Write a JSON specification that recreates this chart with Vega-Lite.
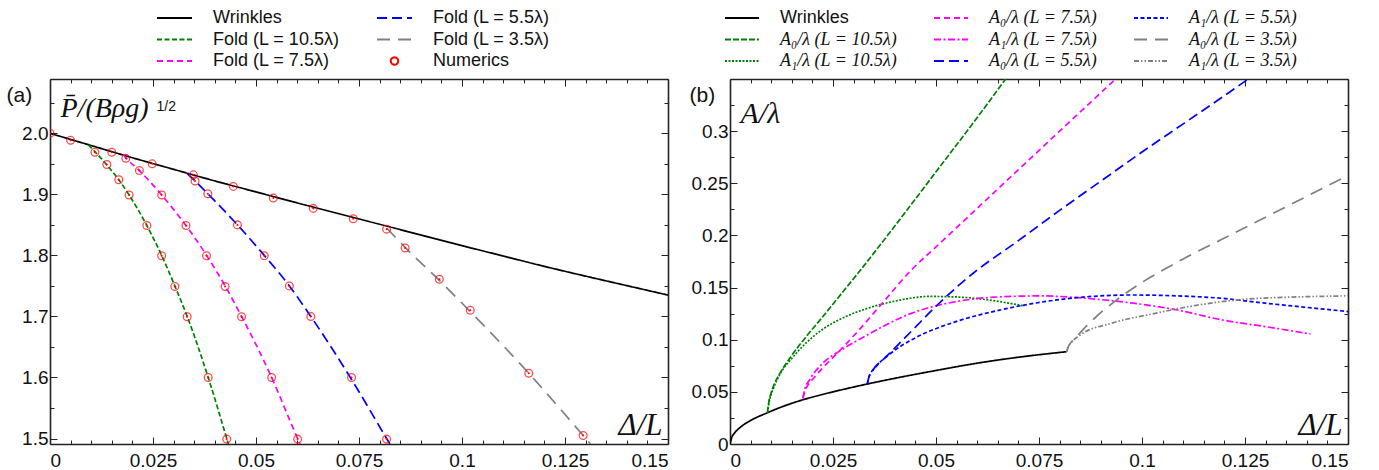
{
  "$schema": "https://vega.github.io/schema/vega-lite/v6.json",
  "padding": {"left": 6, "top": 8, "right": 5, "bottom": 2},
  "config": {
    "font": "Liberation Sans",
    "view": {"stroke": null},
    "axis": {"grid": false, "domainColor": "#222", "domainWidth": 1.6, "tickColor": "#222", "tickWidth": 1, "labelFont": "Liberation Sans", "labelFontSize": 19, "labelColor": "#111", "titleFont": "Liberation Serif", "titleFontStyle": "italic", "titleFontWeight": "normal", "titleColor": "#111"}
  },
  "datasets": {
    "a": [
      {"x": 0, "y": 2.0, "series": "Wrinkles"},
      {"x": 0.01, "y": 1.980, "series": "Wrinkles"},
      {"x": 0.02, "y": 1.960, "series": "Wrinkles"},
      {"x": 0.03, "y": 1.941, "series": "Wrinkles"},
      {"x": 0.04, "y": 1.922, "series": "Wrinkles"},
      {"x": 0.05, "y": 1.904, "series": "Wrinkles"},
      {"x": 0.06, "y": 1.886, "series": "Wrinkles"},
      {"x": 0.07, "y": 1.8685, "series": "Wrinkles"},
      {"x": 0.08, "y": 1.851, "series": "Wrinkles"},
      {"x": 0.09, "y": 1.8335, "series": "Wrinkles"},
      {"x": 0.1, "y": 1.816, "series": "Wrinkles"},
      {"x": 0.11, "y": 1.799, "series": "Wrinkles"},
      {"x": 0.12, "y": 1.782, "series": "Wrinkles"},
      {"x": 0.13, "y": 1.766, "series": "Wrinkles"},
      {"x": 0.14, "y": 1.7505, "series": "Wrinkles"},
      {"x": 0.15, "y": 1.735, "series": "Wrinkles"},
      {"x": 0.0093, "y": 1.981, "series": "Fold (L = 10.5λ)"},
      {"x": 0.0109, "y": 1.970, "series": "Fold (L = 10.5λ)"},
      {"x": 0.0138, "y": 1.948, "series": "Fold (L = 10.5λ)"},
      {"x": 0.0167, "y": 1.924, "series": "Fold (L = 10.5λ)"},
      {"x": 0.0192, "y": 1.899, "series": "Fold (L = 10.5λ)"},
      {"x": 0.0235, "y": 1.849, "series": "Fold (L = 10.5λ)"},
      {"x": 0.0271, "y": 1.8, "series": "Fold (L = 10.5λ)"},
      {"x": 0.0303, "y": 1.75, "series": "Fold (L = 10.5λ)"},
      {"x": 0.0333, "y": 1.7, "series": "Fold (L = 10.5λ)"},
      {"x": 0.0384, "y": 1.6, "series": "Fold (L = 10.5λ)"},
      {"x": 0.0429, "y": 1.5, "series": "Fold (L = 10.5λ)"},
      {"x": 0.0433, "y": 1.491, "series": "Fold (L = 10.5λ)"},
      {"x": 0.0178, "y": 1.965, "series": "Fold (L = 7.5λ)"},
      {"x": 0.0184, "y": 1.960, "series": "Fold (L = 7.5λ)"},
      {"x": 0.0217, "y": 1.939, "series": "Fold (L = 7.5λ)"},
      {"x": 0.0271, "y": 1.899, "series": "Fold (L = 7.5λ)"},
      {"x": 0.033, "y": 1.849, "series": "Fold (L = 7.5λ)"},
      {"x": 0.038, "y": 1.8, "series": "Fold (L = 7.5λ)"},
      {"x": 0.0425, "y": 1.75, "series": "Fold (L = 7.5λ)"},
      {"x": 0.0465, "y": 1.7, "series": "Fold (L = 7.5λ)"},
      {"x": 0.0538, "y": 1.6, "series": "Fold (L = 7.5λ)"},
      {"x": 0.0601, "y": 1.5, "series": "Fold (L = 7.5λ)"},
      {"x": 0.0607, "y": 1.491, "series": "Fold (L = 7.5λ)"},
      {"x": 0.0333, "y": 1.934, "series": "Fold (L = 5.5λ)"},
      {"x": 0.0352, "y": 1.922, "series": "Fold (L = 5.5λ)"},
      {"x": 0.0383, "y": 1.901, "series": "Fold (L = 5.5λ)"},
      {"x": 0.0455, "y": 1.85, "series": "Fold (L = 5.5λ)"},
      {"x": 0.052, "y": 1.8, "series": "Fold (L = 5.5λ)"},
      {"x": 0.0581, "y": 1.75, "series": "Fold (L = 5.5λ)"},
      {"x": 0.0633, "y": 1.7, "series": "Fold (L = 5.5λ)"},
      {"x": 0.0729, "y": 1.6, "series": "Fold (L = 5.5λ)"},
      {"x": 0.0817, "y": 1.5, "series": "Fold (L = 5.5λ)"},
      {"x": 0.0825, "y": 1.491, "series": "Fold (L = 5.5λ)"},
      {"x": 0.0817, "y": 1.845, "series": "Fold (L = 3.5λ)"},
      {"x": 0.0862, "y": 1.813, "series": "Fold (L = 3.5λ)"},
      {"x": 0.0945, "y": 1.759, "series": "Fold (L = 3.5λ)"},
      {"x": 0.102, "y": 1.708, "series": "Fold (L = 3.5λ)"},
      {"x": 0.1162, "y": 1.607, "series": "Fold (L = 3.5λ)"},
      {"x": 0.1294, "y": 1.505, "series": "Fold (L = 3.5λ)"},
      {"x": 0.1312, "y": 1.491, "series": "Fold (L = 3.5λ)"}
    ],
    "num": [
      {"x": 0, "y": 2.0, "series": "Numerics"},
      {"x": 0.005, "y": 1.9885, "series": "Numerics"},
      {"x": 0.015, "y": 1.969, "series": "Numerics"},
      {"x": 0.0248, "y": 1.95, "series": "Numerics"},
      {"x": 0.0348, "y": 1.932, "series": "Numerics"},
      {"x": 0.0445, "y": 1.913, "series": "Numerics"},
      {"x": 0.0542, "y": 1.894, "series": "Numerics"},
      {"x": 0.0639, "y": 1.877, "series": "Numerics"},
      {"x": 0.0736, "y": 1.86, "series": "Numerics"},
      {"x": 0.0817, "y": 1.843, "series": "Numerics"},
      {"x": 0.0109, "y": 1.969, "series": "Numerics"},
      {"x": 0.0138, "y": 1.949, "series": "Numerics"},
      {"x": 0.0167, "y": 1.924, "series": "Numerics"},
      {"x": 0.0192, "y": 1.899, "series": "Numerics"},
      {"x": 0.0235, "y": 1.849, "series": "Numerics"},
      {"x": 0.0271, "y": 1.7995, "series": "Numerics"},
      {"x": 0.0303, "y": 1.749, "series": "Numerics"},
      {"x": 0.0333, "y": 1.6995, "series": "Numerics"},
      {"x": 0.0384, "y": 1.6, "series": "Numerics"},
      {"x": 0.0429, "y": 1.499, "series": "Numerics"},
      {"x": 0.0184, "y": 1.959, "series": "Numerics"},
      {"x": 0.0217, "y": 1.939, "series": "Numerics"},
      {"x": 0.0271, "y": 1.899, "series": "Numerics"},
      {"x": 0.033, "y": 1.849, "series": "Numerics"},
      {"x": 0.038, "y": 1.7995, "series": "Numerics"},
      {"x": 0.0425, "y": 1.749, "series": "Numerics"},
      {"x": 0.0465, "y": 1.6995, "series": "Numerics"},
      {"x": 0.0538, "y": 1.6, "series": "Numerics"},
      {"x": 0.0601, "y": 1.499, "series": "Numerics"},
      {"x": 0.0352, "y": 1.922, "series": "Numerics"},
      {"x": 0.0383, "y": 1.901, "series": "Numerics"},
      {"x": 0.0455, "y": 1.85, "series": "Numerics"},
      {"x": 0.052, "y": 1.7995, "series": "Numerics"},
      {"x": 0.0581, "y": 1.75, "series": "Numerics"},
      {"x": 0.0633, "y": 1.7, "series": "Numerics"},
      {"x": 0.0732, "y": 1.6, "series": "Numerics"},
      {"x": 0.0817, "y": 1.499, "series": "Numerics"},
      {"x": 0.0862, "y": 1.812, "series": "Numerics"},
      {"x": 0.0945, "y": 1.761, "series": "Numerics"},
      {"x": 0.102, "y": 1.71, "series": "Numerics"},
      {"x": 0.1162, "y": 1.607, "series": "Numerics"},
      {"x": 0.1294, "y": 1.505, "series": "Numerics"}
    ],
    "b": [
      {"x": 0, "y": 0, "series": "Wrinkles"},
      {"x": 0.0005, "y": 0.007, "series": "Wrinkles"},
      {"x": 0.001, "y": 0.010, "series": "Wrinkles"},
      {"x": 0.0025, "y": 0.016, "series": "Wrinkles"},
      {"x": 0.005, "y": 0.0225, "series": "Wrinkles"},
      {"x": 0.0091, "y": 0.030, "series": "Wrinkles"},
      {"x": 0.0125, "y": 0.0355, "series": "Wrinkles"},
      {"x": 0.0177, "y": 0.0424, "series": "Wrinkles"},
      {"x": 0.025, "y": 0.050, "series": "Wrinkles"},
      {"x": 0.0333, "y": 0.0575, "series": "Wrinkles"},
      {"x": 0.04, "y": 0.063, "series": "Wrinkles"},
      {"x": 0.05, "y": 0.0705, "series": "Wrinkles"},
      {"x": 0.06, "y": 0.0775, "series": "Wrinkles"},
      {"x": 0.07, "y": 0.0832, "series": "Wrinkles"},
      {"x": 0.0817, "y": 0.0885, "series": "Wrinkles"},

      {"x": 0.0091, "y": 0.030, "series": "A₀/λ (L = 10.5λ)"},
      {"x": 0.0094, "y": 0.040, "series": "A₀/λ (L = 10.5λ)"},
      {"x": 0.0099, "y": 0.048, "series": "A₀/λ (L = 10.5λ)"},
      {"x": 0.0107, "y": 0.057, "series": "A₀/λ (L = 10.5λ)"},
      {"x": 0.012, "y": 0.067, "series": "A₀/λ (L = 10.5λ)"},
      {"x": 0.015, "y": 0.085, "series": "A₀/λ (L = 10.5λ)"},
      {"x": 0.0185, "y": 0.103, "series": "A₀/λ (L = 10.5λ)"},
      {"x": 0.0225, "y": 0.122, "series": "A₀/λ (L = 10.5λ)"},
      {"x": 0.0268, "y": 0.143, "series": "A₀/λ (L = 10.5λ)"},
      {"x": 0.0311, "y": 0.164, "series": "A₀/λ (L = 10.5λ)"},
      {"x": 0.04, "y": 0.209, "series": "A₀/λ (L = 10.5λ)"},
      {"x": 0.05, "y": 0.261, "series": "A₀/λ (L = 10.5λ)"},
      {"x": 0.06, "y": 0.313, "series": "A₀/λ (L = 10.5λ)"},
      {"x": 0.0669, "y": 0.35, "series": "A₀/λ (L = 10.5λ)"},

      {"x": 0.0091, "y": 0.030, "series": "A₁/λ (L = 10.5λ)"},
      {"x": 0.0095, "y": 0.040, "series": "A₁/λ (L = 10.5λ)"},
      {"x": 0.0105, "y": 0.053, "series": "A₁/λ (L = 10.5λ)"},
      {"x": 0.012, "y": 0.066, "series": "A₁/λ (L = 10.5λ)"},
      {"x": 0.015, "y": 0.082, "series": "A₁/λ (L = 10.5λ)"},
      {"x": 0.0185, "y": 0.097, "series": "A₁/λ (L = 10.5λ)"},
      {"x": 0.0225, "y": 0.110, "series": "A₁/λ (L = 10.5λ)"},
      {"x": 0.028, "y": 0.122, "series": "A₁/λ (L = 10.5λ)"},
      {"x": 0.0333, "y": 0.130, "series": "A₁/λ (L = 10.5λ)"},
      {"x": 0.04, "y": 0.137, "series": "A₁/λ (L = 10.5λ)"},
      {"x": 0.0484, "y": 0.1415, "series": "A₁/λ (L = 10.5λ)"},
      {"x": 0.055, "y": 0.141, "series": "A₁/λ (L = 10.5λ)"},
      {"x": 0.062, "y": 0.1385, "series": "A₁/λ (L = 10.5λ)"},
      {"x": 0.0715, "y": 0.1323, "series": "A₁/λ (L = 10.5λ)"},

      {"x": 0.0177, "y": 0.0438, "series": "A₀/λ (L = 7.5λ)"},
      {"x": 0.0181, "y": 0.050, "series": "A₀/λ (L = 7.5λ)"},
      {"x": 0.019, "y": 0.057, "series": "A₀/λ (L = 7.5λ)"},
      {"x": 0.0205, "y": 0.064, "series": "A₀/λ (L = 7.5λ)"},
      {"x": 0.0225, "y": 0.073, "series": "A₀/λ (L = 7.5λ)"},
      {"x": 0.026, "y": 0.087, "series": "A₀/λ (L = 7.5λ)"},
      {"x": 0.0301, "y": 0.104, "series": "A₀/λ (L = 7.5λ)"},
      {"x": 0.0376, "y": 0.138, "series": "A₀/λ (L = 7.5λ)"},
      {"x": 0.044, "y": 0.1668, "series": "A₀/λ (L = 7.5λ)"},
      {"x": 0.05, "y": 0.189, "series": "A₀/λ (L = 7.5λ)"},
      {"x": 0.06, "y": 0.226, "series": "A₀/λ (L = 7.5λ)"},
      {"x": 0.07, "y": 0.263, "series": "A₀/λ (L = 7.5λ)"},
      {"x": 0.08, "y": 0.300, "series": "A₀/λ (L = 7.5λ)"},
      {"x": 0.0936, "y": 0.35, "series": "A₀/λ (L = 7.5λ)"},

      {"x": 0.0177, "y": 0.0438, "series": "A₁/λ (L = 7.5λ)"},
      {"x": 0.0181, "y": 0.052, "series": "A₁/λ (L = 7.5λ)"},
      {"x": 0.0193, "y": 0.0614, "series": "A₁/λ (L = 7.5λ)"},
      {"x": 0.0225, "y": 0.0774, "series": "A₁/λ (L = 7.5λ)"},
      {"x": 0.027, "y": 0.090, "series": "A₁/λ (L = 7.5λ)"},
      {"x": 0.0333, "y": 0.1045, "series": "A₁/λ (L = 7.5λ)"},
      {"x": 0.044, "y": 0.1253, "series": "A₁/λ (L = 7.5λ)"},
      {"x": 0.0548, "y": 0.1365, "series": "A₁/λ (L = 7.5λ)"},
      {"x": 0.065, "y": 0.141, "series": "A₁/λ (L = 7.5λ)"},
      {"x": 0.0753, "y": 0.142, "series": "A₁/λ (L = 7.5λ)"},
      {"x": 0.087, "y": 0.1395, "series": "A₁/λ (L = 7.5λ)"},
      {"x": 0.0979, "y": 0.135, "series": "A₁/λ (L = 7.5λ)"},
      {"x": 0.1086, "y": 0.1285, "series": "A₁/λ (L = 7.5λ)"},
      {"x": 0.1194, "y": 0.119, "series": "A₁/λ (L = 7.5λ)"},
      {"x": 0.13, "y": 0.1125, "series": "A₁/λ (L = 7.5λ)"},
      {"x": 0.1409, "y": 0.1055, "series": "A₁/λ (L = 7.5λ)"},

      {"x": 0.0333, "y": 0.0572, "series": "A₀/λ (L = 5.5λ)"},
      {"x": 0.0337, "y": 0.064, "series": "A₀/λ (L = 5.5λ)"},
      {"x": 0.0347, "y": 0.071, "series": "A₀/λ (L = 5.5λ)"},
      {"x": 0.0376, "y": 0.0825, "series": "A₀/λ (L = 5.5λ)"},
      {"x": 0.041, "y": 0.096, "series": "A₀/λ (L = 5.5λ)"},
      {"x": 0.044, "y": 0.108, "series": "A₀/λ (L = 5.5λ)"},
      {"x": 0.0505, "y": 0.134, "series": "A₀/λ (L = 5.5λ)"},
      {"x": 0.0591, "y": 0.164, "series": "A₀/λ (L = 5.5λ)"},
      {"x": 0.07, "y": 0.195, "series": "A₀/λ (L = 5.5λ)"},
      {"x": 0.08, "y": 0.224, "series": "A₀/λ (L = 5.5λ)"},
      {"x": 0.09, "y": 0.252, "series": "A₀/λ (L = 5.5λ)"},
      {"x": 0.1, "y": 0.280, "series": "A₀/λ (L = 5.5λ)"},
      {"x": 0.11, "y": 0.307, "series": "A₀/λ (L = 5.5λ)"},
      {"x": 0.12, "y": 0.334, "series": "A₀/λ (L = 5.5λ)"},
      {"x": 0.1258, "y": 0.35, "series": "A₀/λ (L = 5.5λ)"},

      {"x": 0.0333, "y": 0.0572, "series": "A₁/λ (L = 5.5λ)"},
      {"x": 0.0338, "y": 0.065, "series": "A₁/λ (L = 5.5λ)"},
      {"x": 0.0354, "y": 0.074, "series": "A₁/λ (L = 5.5λ)"},
      {"x": 0.039, "y": 0.087, "series": "A₁/λ (L = 5.5λ)"},
      {"x": 0.044, "y": 0.0997, "series": "A₁/λ (L = 5.5λ)"},
      {"x": 0.0548, "y": 0.1173, "series": "A₁/λ (L = 5.5λ)"},
      {"x": 0.0656, "y": 0.1285, "series": "A₁/λ (L = 5.5λ)"},
      {"x": 0.0763, "y": 0.1365, "series": "A₁/λ (L = 5.5λ)"},
      {"x": 0.0871, "y": 0.1413, "series": "A₁/λ (L = 5.5λ)"},
      {"x": 0.0979, "y": 0.1429, "series": "A₁/λ (L = 5.5λ)"},
      {"x": 0.1086, "y": 0.142, "series": "A₁/λ (L = 5.5λ)"},
      {"x": 0.1194, "y": 0.1397, "series": "A₁/λ (L = 5.5λ)"},
      {"x": 0.13, "y": 0.135, "series": "A₁/λ (L = 5.5λ)"},
      {"x": 0.14, "y": 0.131, "series": "A₁/λ (L = 5.5λ)"},
      {"x": 0.15, "y": 0.127, "series": "A₁/λ (L = 5.5λ)"},

      {"x": 0.0817, "y": 0.0885, "series": "A₀/λ (L = 3.5λ)"},
      {"x": 0.0822, "y": 0.094, "series": "A₀/λ (L = 3.5λ)"},
      {"x": 0.083, "y": 0.0985, "series": "A₀/λ (L = 3.5λ)"},
      {"x": 0.084, "y": 0.1025, "series": "A₀/λ (L = 3.5λ)"},
      {"x": 0.0865, "y": 0.113, "series": "A₀/λ (L = 3.5λ)"},
      {"x": 0.089, "y": 0.1225, "series": "A₀/λ (L = 3.5λ)"},
      {"x": 0.092, "y": 0.1325, "series": "A₀/λ (L = 3.5λ)"},
      {"x": 0.0955, "y": 0.143, "series": "A₀/λ (L = 3.5λ)"},
      {"x": 0.1, "y": 0.155, "series": "A₀/λ (L = 3.5λ)"},
      {"x": 0.105, "y": 0.1665, "series": "A₀/λ (L = 3.5λ)"},
      {"x": 0.11, "y": 0.1775, "series": "A₀/λ (L = 3.5λ)"},
      {"x": 0.12, "y": 0.1975, "series": "A₀/λ (L = 3.5λ)"},
      {"x": 0.13, "y": 0.2175, "series": "A₀/λ (L = 3.5λ)"},
      {"x": 0.14, "y": 0.2375, "series": "A₀/λ (L = 3.5λ)"},
      {"x": 0.15, "y": 0.2575, "series": "A₀/λ (L = 3.5λ)"},

      {"x": 0.0817, "y": 0.0885, "series": "A₁/λ (L = 3.5λ)"},
      {"x": 0.082, "y": 0.092, "series": "A₁/λ (L = 3.5λ)"},
      {"x": 0.0828, "y": 0.097, "series": "A₁/λ (L = 3.5λ)"},
      {"x": 0.085, "y": 0.1045, "series": "A₁/λ (L = 3.5λ)"},
      {"x": 0.0925, "y": 0.1157, "series": "A₁/λ (L = 3.5λ)"},
      {"x": 0.1032, "y": 0.1253, "series": "A₁/λ (L = 3.5λ)"},
      {"x": 0.114, "y": 0.1335, "series": "A₁/λ (L = 3.5λ)"},
      {"x": 0.1247, "y": 0.1387, "series": "A₁/λ (L = 3.5λ)"},
      {"x": 0.1375, "y": 0.141, "series": "A₁/λ (L = 3.5λ)"},
      {"x": 0.15, "y": 0.142, "series": "A₁/λ (L = 3.5λ)"}
    ]
  },
  "hconcat": [
    {
      "width": 618,
      "height": 365,
      "layer": [
        {
          "data": {"name": "a"},
          "mark": {"type": "line", "strokeWidth": 1.7, "interpolate": "monotone", "clip": true},
          "encoding": {
            "x": {"field": "x", "type": "quantitative", "scale": {"domain": [0, 0.15], "nice": false, "zero": false},
              "axis": {"orient": "bottom", "values": [0,0.005,0.01,0.015,0.02,0.025,0.03,0.035,0.04,0.045,0.05,0.055,0.06,0.065,0.07,0.075,0.08,0.085,0.09,0.095,0.1,0.105,0.11,0.115,0.12,0.125,0.13,0.135,0.14,0.145,0.15],
                "format": "~g", "labelExpr": "abs(datum.value/0.025 - round(datum.value/0.025)) < 1e-6 ? datum.label : ''",
                "tickSize": {"condition": {"test": "abs(datum.value/0.025 - round(datum.value/0.025)) < 1e-6", "value": -7}, "value": -4},
                "labelPadding": 14, "title": "Δ/L", "titleX": 612, "titleY": -10, "titleAlign": "right", "titleBaseline": "alphabetic", "titleFontSize": 31, "titleAngle": 0}},
            "y": {"field": "y", "type": "quantitative", "scale": {"domain": [1.491, 2.089], "nice": false, "zero": false},
              "axis": {"orient": "left", "values": [1.5,1.55,1.6,1.65,1.7,1.75,1.8,1.85,1.9,1.95,2.0,2.05],
                "format": ".1f", "labelExpr": "abs(datum.value*10 - round(datum.value*10)) < 1e-6 ? datum.label : ''",
                "tickSize": {"condition": {"test": "abs(datum.value*10 - round(datum.value*10)) < 1e-6", "value": -7}, "value": -4},
                "labelPadding": 9, "title": "(a)", "titleX": -44, "titleY": 16, "titleAlign": "left", "titleBaseline": "middle", "titleAngle": 0, "titleFont": "Liberation Sans", "titleFontStyle": "normal", "titleFontSize": 21}},
            "color": {"field": "series", "type": "nominal",
              "scale": {"domain": ["Wrinkles", "Fold (L = 10.5λ)", "Fold (L = 7.5λ)", "Fold (L = 5.5λ)", "Fold (L = 3.5λ)", "Numerics"], "range": ["#000000", "#008000", "#ff00ff", "#0000ff", "#808080", "#ff0000"]},
              "legend": {"orient": "none", "legendX": 106, "legendY": -71, "columns": 2, "title": null, "symbolType": "stroke", "symbolSize": 1225, "symbolStrokeWidth": 2, "clipHeight": 20, "rowPadding": 1.5, "columnPadding": 36, "labelOffset": 20, "labelFontSize": 18, "labelFont": "Liberation Sans", "labelColor": "#111", "padding": 0,
                "encoding": {"symbols": {"shape": {"value": {"expr": "datum.value === 'Numerics' ? 'circle' : 'stroke'"}}, "size": {"value": {"expr": "datum.value === 'Numerics' ? 55 : 1225"}}}}}},
            "strokeDash": {"field": "series", "type": "nominal",
              "scale": {"domain": ["Wrinkles", "Fold (L = 10.5λ)", "Fold (L = 7.5λ)", "Fold (L = 5.5λ)", "Fold (L = 3.5λ)", "Numerics"], "range": [[1,0], [5,2.5], [6,4], [10,5], [13,8], [1,0]]},
              "legend": {"orient": "none", "legendX": 106, "legendY": -71, "columns": 2, "title": null, "symbolType": "stroke", "symbolSize": 1225, "symbolStrokeWidth": 2, "clipHeight": 20, "rowPadding": 1.5, "columnPadding": 36, "labelOffset": 20, "labelFontSize": 18, "labelFont": "Liberation Sans", "labelColor": "#111", "padding": 0,
                "encoding": {"symbols": {"shape": {"value": {"expr": "datum.value === 'Numerics' ? 'circle' : 'stroke'"}}, "size": {"value": {"expr": "datum.value === 'Numerics' ? 55 : 1225"}}}}}}
          }
        },
        {
          "data": {"name": "num"},
          "mark": {"type": "point", "filled": false, "size": 60, "strokeWidth": 1.3, "clip": true},
          "encoding": {
            "x": {"field": "x", "type": "quantitative", "scale": {"domain": [0, 0.15], "nice": false, "zero": false}, "axis": null},
            "y": {"field": "y", "type": "quantitative", "scale": {"domain": [1.491, 2.089], "nice": false, "zero": false}, "axis": null},
            "color": {"field": "series", "type": "nominal",
              "scale": {"domain": ["Wrinkles", "Fold (L = 10.5λ)", "Fold (L = 7.5λ)", "Fold (L = 5.5λ)", "Fold (L = 3.5λ)", "Numerics"], "range": ["#000000", "#008000", "#ff00ff", "#0000ff", "#808080", "#ff0000"]},
              "legend": {"orient": "none", "legendX": 106, "legendY": -71, "columns": 2, "title": null, "symbolType": "stroke", "symbolSize": 1225, "symbolStrokeWidth": 2, "clipHeight": 20, "rowPadding": 1.5, "columnPadding": 36, "labelOffset": 20, "labelFontSize": 18, "labelFont": "Liberation Sans", "labelColor": "#111", "padding": 0,
                "encoding": {"symbols": {"shape": {"value": {"expr": "datum.value === 'Numerics' ? 'circle' : 'stroke'"}}, "size": {"value": {"expr": "datum.value === 'Numerics' ? 55 : 1225"}}}}}}
          }
        },
        {
          "data": {"name": "num"},
          "mark": {"type": "point", "filled": true, "size": 4, "color": "#ff0000", "opacity": 1, "clip": true},
          "encoding": {
            "x": {"field": "x", "type": "quantitative", "scale": {"domain": [0, 0.15], "nice": false, "zero": false}, "axis": null},
            "y": {"field": "y", "type": "quantitative", "scale": {"domain": [1.491, 2.089], "nice": false, "zero": false}, "axis": null}
          }
        },
        {
          "data": {"name": "a"},
          "mark": {"type": "line", "opacity": 0},
          "encoding": {
            "x": {"field": "x", "type": "quantitative", "scale": {"domain": [0, 0.15], "nice": false, "zero": false},
              "axis": {"orient": "top", "values": [0,0.005,0.01,0.015,0.02,0.025,0.03,0.035,0.04,0.045,0.05,0.055,0.06,0.065,0.07,0.075,0.08,0.085,0.09,0.095,0.1,0.105,0.11,0.115,0.12,0.125,0.13,0.135,0.14,0.145,0.15],
                "labels": false,
                "tickSize": {"condition": {"test": "abs(datum.value/0.025 - round(datum.value/0.025)) < 1e-6", "value": -7}, "value": -4},
                "title": "1/2", "titleX": 106, "titleY": 31, "titleAlign": "left", "titleBaseline": "alphabetic", "titleAngle": 0, "titleFont": "Liberation Sans", "titleFontStyle": "normal", "titleFontSize": 14}},
            "y": {"field": "y", "type": "quantitative", "scale": {"domain": [1.491, 2.089], "nice": false, "zero": false},
              "axis": {"orient": "right", "values": [1.5,1.55,1.6,1.65,1.7,1.75,1.8,1.85,1.9,1.95,2.0,2.05],
                "labels": false,
                "tickSize": {"condition": {"test": "abs(datum.value*10 - round(datum.value*10)) < 1e-6", "value": -7}, "value": -4},
                "title": "P̄/(Bρg)", "titleX": -608, "titleY": 37, "titleAlign": "left", "titleBaseline": "alphabetic", "titleAngle": 0, "titleFontSize": 28}}
          }
        }
      ],
      "resolve": {"axis": {"x": "independent", "y": "independent"}}
    },
    {
      "width": 618,
      "height": 365,
      "layer": [
        {
          "data": {"name": "b"},
          "mark": {"type": "line", "strokeWidth": 1.7, "interpolate": "monotone", "clip": true},
          "encoding": {
            "x": {"field": "x", "type": "quantitative", "scale": {"domain": [0, 0.15], "nice": false, "zero": false},
              "axis": {"orient": "bottom", "values": [0,0.005,0.01,0.015,0.02,0.025,0.03,0.035,0.04,0.045,0.05,0.055,0.06,0.065,0.07,0.075,0.08,0.085,0.09,0.095,0.1,0.105,0.11,0.115,0.12,0.125,0.13,0.135,0.14,0.145,0.15],
                "format": "~g", "labelExpr": "abs(datum.value/0.025 - round(datum.value/0.025)) < 1e-6 ? datum.label : ''",
                "tickSize": {"condition": {"test": "abs(datum.value/0.025 - round(datum.value/0.025)) < 1e-6", "value": -7}, "value": -4},
                "labelPadding": 14, "title": "Δ/L", "titleX": 612, "titleY": -10, "titleAlign": "right", "titleBaseline": "alphabetic", "titleFontSize": 31, "titleAngle": 0}},
            "y": {"field": "y", "type": "quantitative", "scale": {"domain": [0, 0.35], "nice": false, "zero": false},
              "axis": {"orient": "left", "values": [0,0.025,0.05,0.075,0.1,0.125,0.15,0.175,0.2,0.225,0.25,0.275,0.3,0.325],
                "format": "~g", "labelExpr": "abs(datum.value/0.05 - round(datum.value/0.05)) < 1e-6 ? datum.label : ''",
                "tickSize": {"condition": {"test": "abs(datum.value/0.05 - round(datum.value/0.05)) < 1e-6", "value": -7}, "value": -4},
                "labelPadding": 9, "title": "(b)", "titleX": -41, "titleY": 16, "titleAlign": "left", "titleBaseline": "middle", "titleAngle": 0, "titleFont": "Liberation Sans", "titleFontStyle": "normal", "titleFontSize": 21}},
            "color": {"field": "series", "type": "nominal",
              "scale": {"domain": ["Wrinkles", "A₀/λ (L = 10.5λ)", "A₁/λ (L = 10.5λ)", "A₀/λ (L = 7.5λ)", "A₁/λ (L = 7.5λ)", "A₀/λ (L = 5.5λ)", "A₁/λ (L = 5.5λ)", "A₀/λ (L = 3.5λ)", "A₁/λ (L = 3.5λ)"],
                "range": ["#000000", "#008000", "#008000", "#ff00ff", "#ff00ff", "#0000ff", "#0000ff", "#808080", "#808080"]},
              "legend": {"orient": "none", "legendX": -6, "legendY": -71, "columns": 3, "title": null, "symbolType": "stroke", "symbolSize": 1156, "symbolStrokeWidth": 2, "clipHeight": 20, "rowPadding": 1.5, "columnPadding": 36, "labelOffset": 20, "labelFontSize": 18, "labelFont": "Liberation Serif", "labelColor": "#111", "padding": 0,
                "encoding": {"labels": {"font": {"value": {"expr": "datum.value === 'Wrinkles' ? 'Liberation Sans' : 'Liberation Serif'"}}, "fontStyle": {"value": {"expr": "datum.value === 'Wrinkles' ? 'normal' : 'italic'"}}}}}},
            "strokeDash": {"field": "series", "type": "nominal",
              "scale": {"domain": ["Wrinkles", "A₀/λ (L = 10.5λ)", "A₁/λ (L = 10.5λ)", "A₀/λ (L = 7.5λ)", "A₁/λ (L = 7.5λ)", "A₀/λ (L = 5.5λ)", "A₁/λ (L = 5.5λ)", "A₀/λ (L = 3.5λ)", "A₁/λ (L = 3.5λ)"],
                "range": [[1,0], [6,2], [2,1.5], [6,4], [7,2.5,2,2.5], [10,5], [4,2.5], [13,8], [5,2,1.5,2,1.5,2]]},
              "legend": {"orient": "none", "legendX": -6, "legendY": -71, "columns": 3, "title": null, "symbolType": "stroke", "symbolSize": 1156, "symbolStrokeWidth": 2, "clipHeight": 20, "rowPadding": 1.5, "columnPadding": 36, "labelOffset": 20, "labelFontSize": 18, "labelFont": "Liberation Serif", "labelColor": "#111", "padding": 0,
                "encoding": {"labels": {"font": {"value": {"expr": "datum.value === 'Wrinkles' ? 'Liberation Sans' : 'Liberation Serif'"}}, "fontStyle": {"value": {"expr": "datum.value === 'Wrinkles' ? 'normal' : 'italic'"}}}}}}
          }
        },
        {
          "data": {"name": "b"},
          "mark": {"type": "line", "opacity": 0},
          "encoding": {
            "x": {"field": "x", "type": "quantitative", "scale": {"domain": [0, 0.15], "nice": false, "zero": false},
              "axis": {"orient": "top", "values": [0,0.005,0.01,0.015,0.02,0.025,0.03,0.035,0.04,0.045,0.05,0.055,0.06,0.065,0.07,0.075,0.08,0.085,0.09,0.095,0.1,0.105,0.11,0.115,0.12,0.125,0.13,0.135,0.14,0.145,0.15],
                "labels": false, "title": null,
                "tickSize": {"condition": {"test": "abs(datum.value/0.025 - round(datum.value/0.025)) < 1e-6", "value": -7}, "value": -4}}},
            "y": {"field": "y", "type": "quantitative", "scale": {"domain": [0, 0.35], "nice": false, "zero": false},
              "axis": {"orient": "right", "values": [0,0.025,0.05,0.075,0.1,0.125,0.15,0.175,0.2,0.225,0.25,0.275,0.3,0.325],
                "labels": false,
                "tickSize": {"condition": {"test": "abs(datum.value/0.05 - round(datum.value/0.05)) < 1e-6", "value": -7}, "value": -4},
                "title": "A/λ", "titleX": -608, "titleY": 43, "titleAlign": "left", "titleBaseline": "alphabetic", "titleAngle": 0, "titleFontSize": 30}}
          }
        }
      ],
      "resolve": {"axis": {"x": "independent", "y": "independent"}}
    }
  ],
  "spacing": 62,
  "bounds": "flush",
  "resolve": {"scale": {"color": "independent", "strokeDash": "independent"}, "legend": {"color": "independent", "strokeDash": "independent"}}
}
